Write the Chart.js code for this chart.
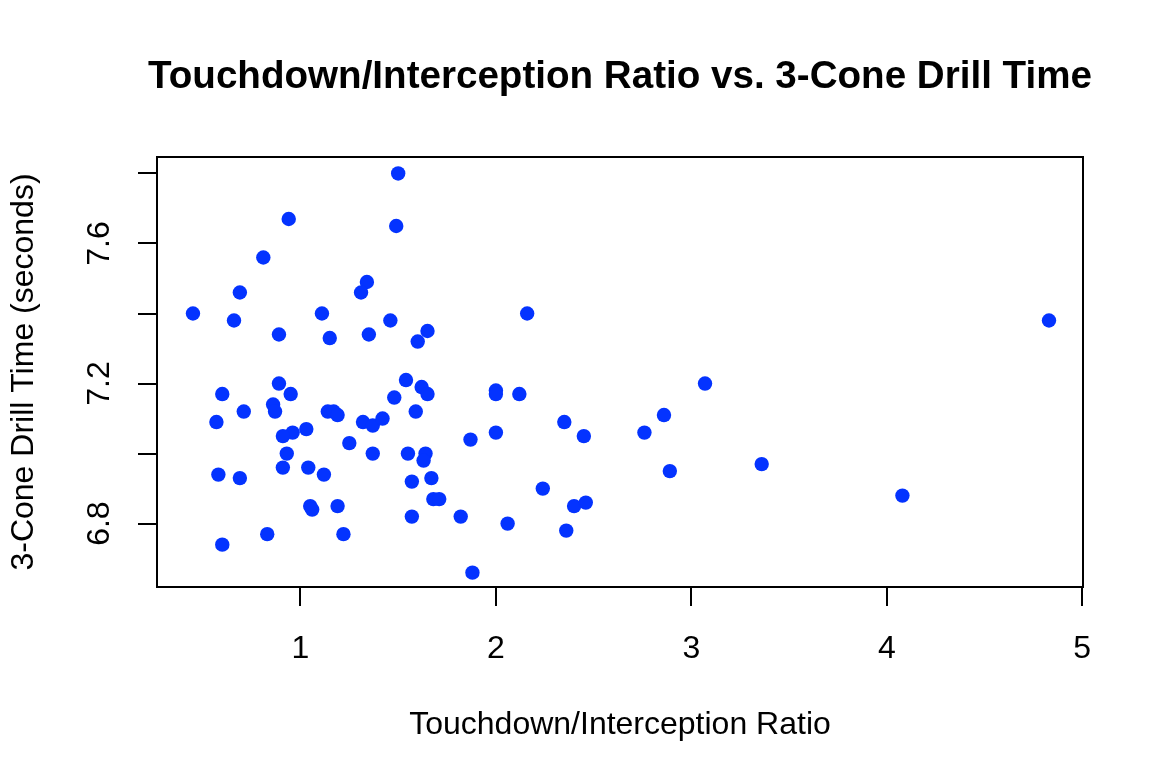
<!DOCTYPE html>
<html lang="en">

<head>
    <meta charset="UTF-8">
    <title>TD/INT Ratio vs 3-Cone</title>
    <script src="https://cdn.jsdelivr.net/npm/chart.js"></script>
    <style>
        body { margin: 0; background: white; overflow: hidden; }
        #grafico { display: block; }
    </style>
</head>

<body>
    <canvas id="grafico" width="1164" height="784"></canvas>
</body>

</html>

<script>
    // values
    const tdIntRatio = [
        1.50, 0.94, 1.49, 0.81, 1.34, 1.31, 0.69, 0.45, 0.66, 1.11,
        1.46, 0.89, 1.15, 1.35, 1.65, 1.60, 0.89, 0.60, 0.95, 0.86,
        0.87, 0.71, 0.57, 1.54, 1.62, 1.65, 1.48, 1.59, 1.14, 1.17,
        1.19, 1.32, 1.37, 1.42, 1.03, 0.96, 0.91, 0.93, 1.25, 1.37,
        1.55, 1.64, 1.63, 1.87, 0.91, 1.04, 0.58, 0.69, 1.12, 1.67,
        1.57, 1.68, 1.71, 1.05, 1.06, 1.19, 1.57, 1.82, 0.83, 1.22,
        0.60, 1.88, 2.16, 2.00, 2.00, 2.12, 3.07, 2.86, 2.35, 2.00,
        2.45, 2.76, 2.89, 3.36, 2.24, 2.40, 2.46, 2.06, 2.36, 4.83,
        4.08
    ];
    const coneTime = [
        7.80, 7.67, 7.65, 7.56, 7.49, 7.46, 7.46, 7.40, 7.38, 7.40,
        7.38, 7.34, 7.33, 7.34, 7.35, 7.32, 7.20, 7.17, 7.17, 7.14,
        7.12, 7.12, 7.09, 7.21, 7.19, 7.17, 7.16, 7.12, 7.12, 7.12,
        7.11, 7.09, 7.08, 7.10, 7.07, 7.06, 7.05, 7.00, 7.03, 7.00,
        7.00, 7.00, 6.98, 7.04, 6.96, 6.96, 6.94, 6.93, 6.94, 6.93,
        6.92, 6.87, 6.87, 6.85, 6.84, 6.85, 6.82, 6.82, 6.77, 6.77,
        6.74, 6.66, 7.40, 7.18, 7.17, 7.17, 7.20, 7.11, 7.09, 7.06,
        7.05, 7.06, 6.95, 6.97, 6.90, 6.85, 6.86, 6.80, 6.78, 7.38,
        6.88
    ];

    const xTicks = [1, 2, 3, 4, 5];
    const xTickLabels = ['1', '2', '3', '4', '5'];
    const yTicks = [6.8, 7.0, 7.2, 7.4, 7.6, 7.8];
    const yTickLabels = ['6.8', '', '7.2', '', '7.6', ''];

    const titulo = 'Touchdown/Interception Ratio vs. 3-Cone Drill Time';
    const fonte = "'Liberation Sans', Arial, Helvetica, sans-serif";
    Chart.defaults.font.family = fonte;
    Chart.defaults.color = 'black';

    let pontos = [];
    for (let i = 0; i < tdIntRatio.length; i++) {
        pontos.push({ x: tdIntRatio[i], y: coneTime[i] });
    }

    // R style box around the plot region + title centred over it
    // (the built-in title squeezes the text to the plot width)
    const caixa = {
        id: 'caixa',
        afterDatasetsDraw(chart) {
            const a = chart.chartArea;
            const ctx = chart.ctx;
            ctx.save();
            ctx.strokeStyle = 'black';
            ctx.lineWidth = 2;
            ctx.strokeRect(a.left, a.top, a.right - a.left, a.bottom - a.top);

            ctx.fillStyle = 'black';
            ctx.font = 'bold 38.6px ' + fonte;
            ctx.textAlign = 'center';
            ctx.textBaseline = 'alphabetic';
            ctx.fillText(titulo, (a.left + a.right) / 2, 88);
            ctx.restore();
        }
    };

    const ctx = document.getElementById('grafico');
    new Chart(ctx, {
        type: 'scatter',
        data: {
            datasets: [{
                data: pontos,
                backgroundColor: '#0433ff',
                borderWidth: 0,
                pointRadius: 7.2,
                pointHoverRadius: 7.2
            }]
        },
        options: {
            responsive: false,
            animation: false,
            devicePixelRatio: 1,
            layout: { padding: { left: 0, top: 157, right: 81, bottom: 0 } },
            scales: {
                x: {
                    type: 'linear',
                    min: 0.266,
                    max: 5.004,
                    afterBuildTicks: s => { s.ticks = xTicks.map(v => ({ value: v })); },
                    afterFit: s => { s.height = 197; },
                    grid: { drawOnChartArea: false, drawTicks: true, tickLength: 19, color: 'black', lineWidth: 2 },
                    border: { display: false },
                    ticks: {
                        autoSkip: false,
                        maxRotation: 0,
                        padding: 24,
                        font: { size: 32 },
                        callback: (v, i) => xTickLabels[i]
                    },
                    title: {
                        display: true,
                        text: 'Touchdown/Interception Ratio',
                        font: { size: 32 },
                        padding: { top: 0, bottom: 40 }
                    }
                },
                y: {
                    type: 'linear',
                    min: 6.619,
                    max: 7.847,
                    afterBuildTicks: s => { s.ticks = yTicks.map(v => ({ value: v })); },
                    afterFit: s => { s.width = 157; },
                    grid: { drawOnChartArea: false, drawTicks: true, tickLength: 19, color: 'black', lineWidth: 2 },
                    border: { display: false },
                    ticks: {
                        autoSkip: false,
                        minRotation: 90,
                        maxRotation: 90,
                        crossAlign: 'center',
                        padding: 16,
                        font: { size: 32 },
                        callback: (v, i) => yTickLabels[i]
                    },
                    title: {
                        display: true,
                        text: '3-Cone Drill Time (seconds)',
                        font: { size: 32 },
                        padding: { top: 5, bottom: 0 }
                    }
                }
            },
            plugins: {
                legend: { display: false },
                tooltip: { enabled: false },
                title: { display: false }
            }
        },
        plugins: [caixa]
    });
</script>
